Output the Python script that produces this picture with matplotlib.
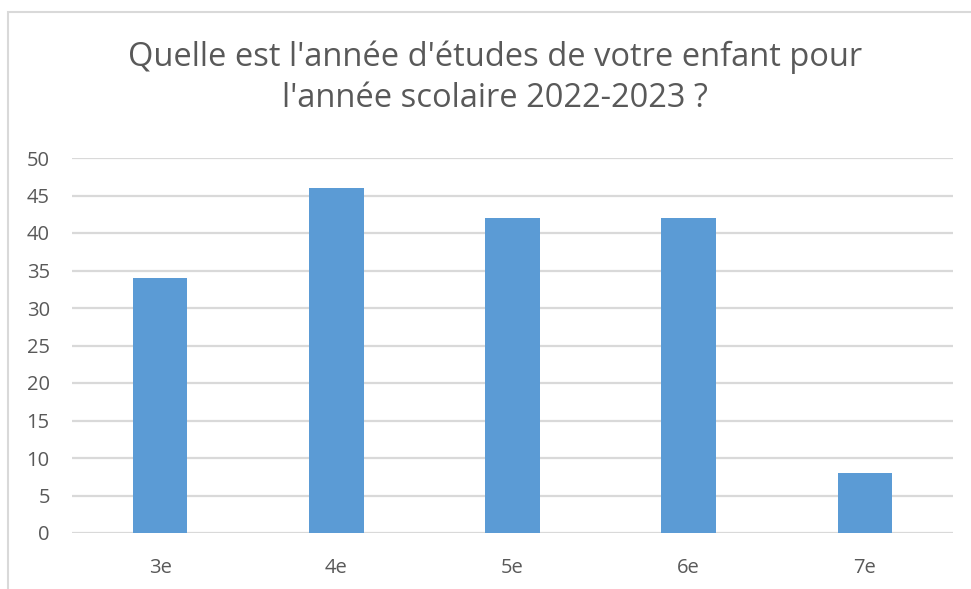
import matplotlib.pyplot as plt
from matplotlib.patches import Rectangle

# data
categories = ["3e", "4e", "5e", "6e", "7e"]
values = [34, 46, 42, 42, 8]
title = "Quelle est l'année d'études de votre enfant pour\nl'année scolaire 2022-2023 ?"

W, H = 971, 589
fig = plt.figure(figsize=(W / 100, H / 100), dpi=100)
plt.rcParams["font.family"] = ["Open Sans", "DejaVu Sans"]

# chart frame (cropped on the right and bottom)
fig.patches.append(Rectangle((8 / W, -0.05), 1.1, 1 - 12 / H + 0.05,
                             transform=fig.transFigure, fill=False,
                             edgecolor="#D9D9D9", linewidth=1.5))

ax = fig.add_axes([72 / W, 1 - 533 / H, (953 - 72) / W, (533 - 158) / H])
x = range(len(categories))
ax.bar(x, values, width=0.31, color="#5B9BD5", zorder=3)

ax.set_xlim(-0.5, 4.5)
ax.set_ylim(0, 50)
ax.set_yticks(range(0, 51, 5))
ax.set_xticks(list(x))
ax.set_xticklabels(categories)
ax.grid(axis="y", color="#D9D9D9", linewidth=1.6, zorder=0)
for s in ax.spines.values():
    s.set_visible(False)
ax.tick_params(length=0, labelsize=14.5, colors="#595959")
ax.tick_params(axis="y", pad=16)
ax.tick_params(axis="x", pad=18)

fig.text(495 / W, 1 - 78 / H, title, ha="center", va="center",
         fontsize=23.5, color="#595959", linespacing=1.3,
         family="Open Sans")

fig.savefig("out.png", dpi=100)
